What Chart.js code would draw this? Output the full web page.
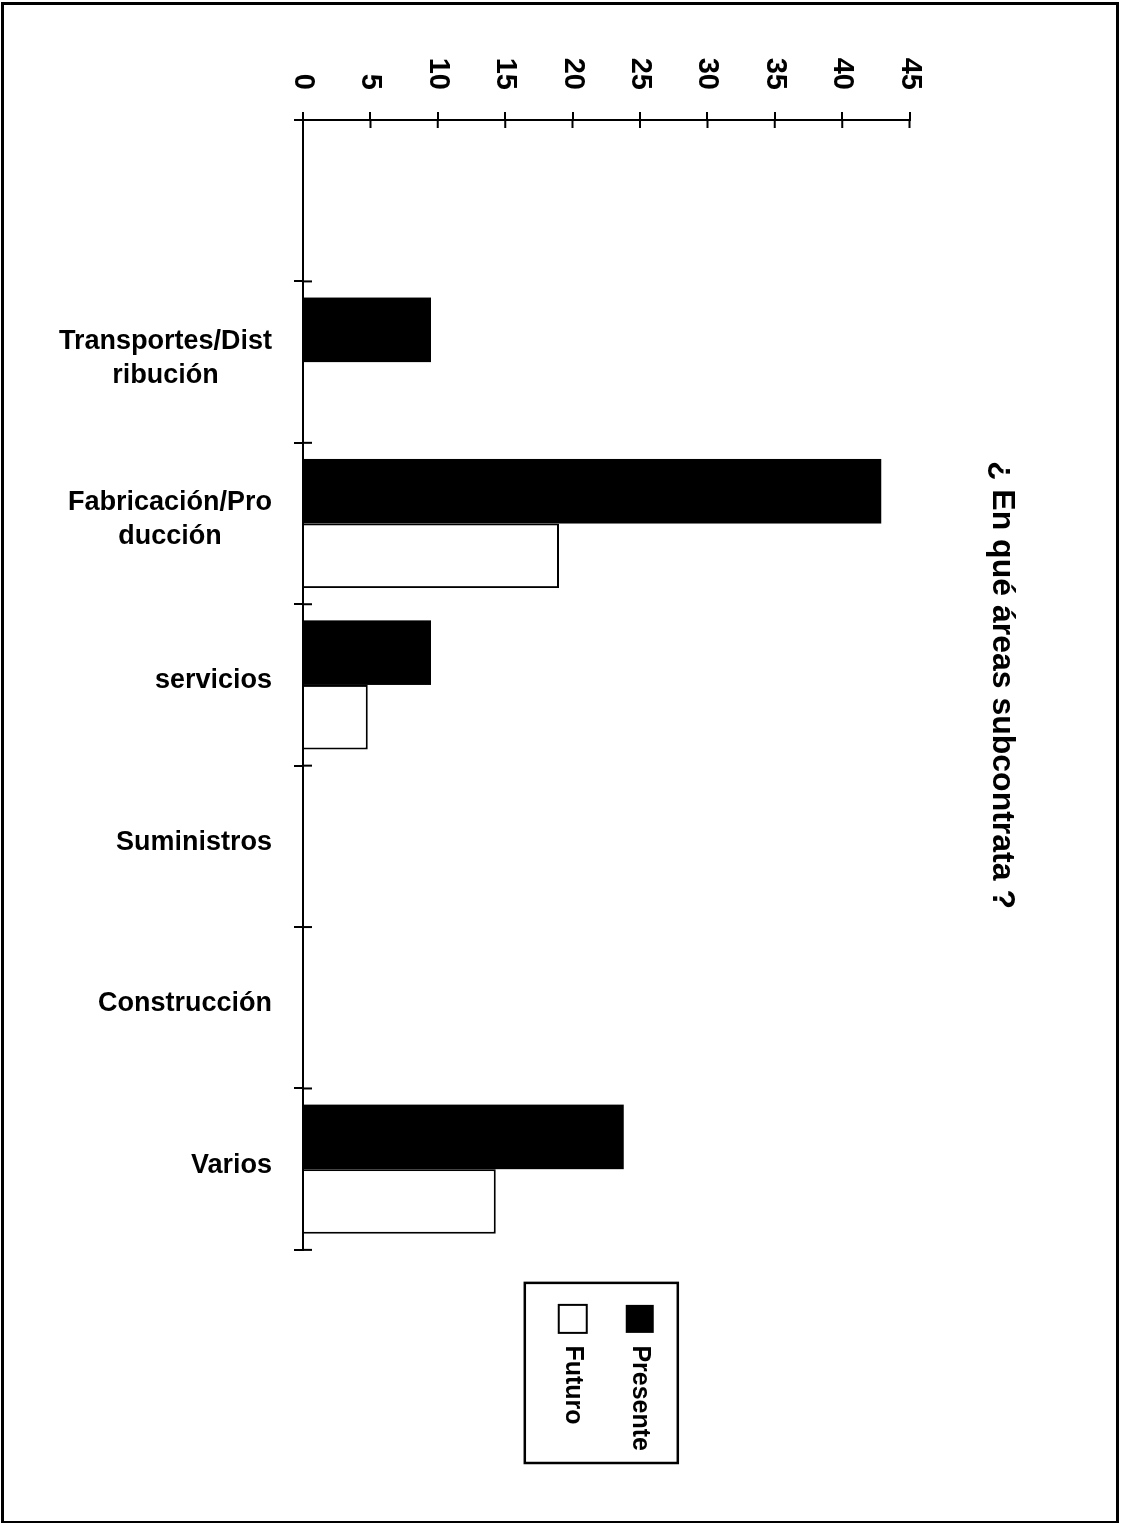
<!DOCTYPE html>
<html>
<head>
<meta charset="utf-8">
<script src="https://cdn.jsdelivr.net/npm/chart.js@4.4.0/dist/chart.umd.min.js"></script>
<style>
  html, body { margin: 0; padding: 0; background: #fff; overflow: hidden; width: 1123px; height: 1524px; }
  #marco { position: absolute; left: 1px; top: 2px; width: 1112px; height: 1516px; border: 3px solid #000; border-bottom-width: 2px; }
  /* the scanned page is turned a quarter to the right, so the chart is drawn upright and then rotated */
  #giro { position: absolute; left: 0; top: 0; width: 1524px; height: 1123px; transform-origin: 0 0; transform: translate(1123px, 0) rotate(90deg); }
</style>
</head>
<body>
<div id="marco"></div>
<div id="giro"><canvas id="areas" width="1524" height="1123"></canvas></div>
<script>
const categorias = ['', ['Transportes/Dist', 'ribución'], ['Fabricación/Pro', 'ducción'], 'servicios', 'Suministros', 'Construcción', 'Varios'];
const presente = [0, 9.5, 42.9, 9.5, 0, 0, 23.8];
const futuro = [0, 0, 19.0, 4.8, 0, 0, 14.3];
const titulo = '¿ En qué áreas subcontrata ?';
const valorMax = 45;
const paso = 5;

const fuente = "'Liberation Sans', Arial, sans-serif";
Chart.defaults.font.family = fuente;
Chart.defaults.color = '#000';

// tick marks that cross the axes + category labels centred line by line
const ejes = {
    id: 'ejes',
    afterLayout(chart) {
        const lg = chart.legend;
        const d = chart.chartArea.right + 16 - lg.left;
        lg.left += d;
        lg.right += d;
    },
    afterDraw(chart) {
        const {ctx, chartArea, scales: {x, y}} = chart;
        ctx.save();
        ctx.strokeStyle = '#000';
        ctx.lineWidth = 2;
        ctx.beginPath();
        for (let v = 0; v <= valorMax; v += paso) {
            const py = y.getPixelForValue(v);
            ctx.moveTo(chartArea.left, py);
            ctx.lineTo(chartArea.left + 8, py);
        }
        for (let i = 0; i <= categorias.length; i++) {
            const px = x.getPixelForValue(i - 0.5);
            ctx.moveTo(px, chartArea.bottom);
            ctx.lineTo(px, chartArea.bottom - 9);
        }
        ctx.stroke();

        ctx.fillStyle = '#000';
        ctx.font = 'bold 27px ' + fuente;
        ctx.textAlign = 'center';
        ctx.textBaseline = 'middle';
        categorias.forEach((lab, i) => {
            const lineas = Array.isArray(lab) ? lab : [lab];
            const ancho = Math.max(...lineas.map(s => ctx.measureText(s).width));
            ctx.save();
            ctx.translate(x.getPixelForValue(i), chartArea.bottom + 31 + ancho / 2);
            ctx.rotate(-Math.PI / 2);
            lineas.forEach((s, k) => ctx.fillText(s, 0, (k - (lineas.length - 1) / 2) * 34 - 4));
            ctx.restore();
        });

        // frame round the legend
        const hb = chart.legend.legendHitBoxes;
        const l = Math.min(...hb.map(h => h.left)) - 22;
        const t = Math.min(...hb.map(h => h.top)) - 24;
        const r = Math.max(...hb.map(h => h.left + h.width)) + 12;
        const b = Math.max(...hb.map(h => h.top + h.height)) + 34;
        ctx.lineWidth = 2.5;
        ctx.strokeRect(l, t, r - l, b - t);
        ctx.restore();
    }
};

new Chart(document.getElementById('areas'), {
    type: 'bar',
    data: {
        labels: categorias,
        datasets: [
            {label: 'Presente', data: presente, backgroundColor: '#000', borderWidth: 0},
            {label: 'Futuro', data: futuro, backgroundColor: '#fff', borderColor: '#000', borderWidth: 2}
        ]
    },
    options: {
        responsive: false,
        animation: false,
        devicePixelRatio: 1,
        layout: {padding: {top: 0, right: 79, bottom: 0, left: 0}},
        datasets: {bar: {categoryPercentage: 0.8, barPercentage: 1}},
        plugins: {
            title: {
                display: true,
                text: titulo,
                fullSize: false,
                color: '#000',
                font: {size: 32, weight: 'bold'},
                padding: {top: 102, bottom: 73}
            },
            legend: {
                position: 'right',
                fullSize: false,
                labels: {
                    boxWidth: 28,
                    boxHeight: 28,
                    padding: 39,
                    color: '#000',
                    font: {size: 25, weight: 'bold'}
                }
            },
            tooltip: {enabled: false}
        },
        scales: {
            x: {
                grid: {offset: true, drawOnChartArea: false, color: '#000', lineWidth: 2, tickLength: 9},
                border: {color: '#000', width: 2},
                ticks: {display: false},
                afterFit(s) { s.height = 303; }
            },
            y: {
                min: 0,
                max: valorMax,
                ticks: {stepSize: paso, padding: 22, color: '#000', font: {size: 29, weight: 'bold'}},
                grid: {drawOnChartArea: false, color: '#000', lineWidth: 2, tickLength: 8},
                border: {color: '#000', width: 2},
                afterFit(s) { s.width = 120; }
            }
        }
    },
    plugins: [ejes]
});
</script>
</body>
</html>
